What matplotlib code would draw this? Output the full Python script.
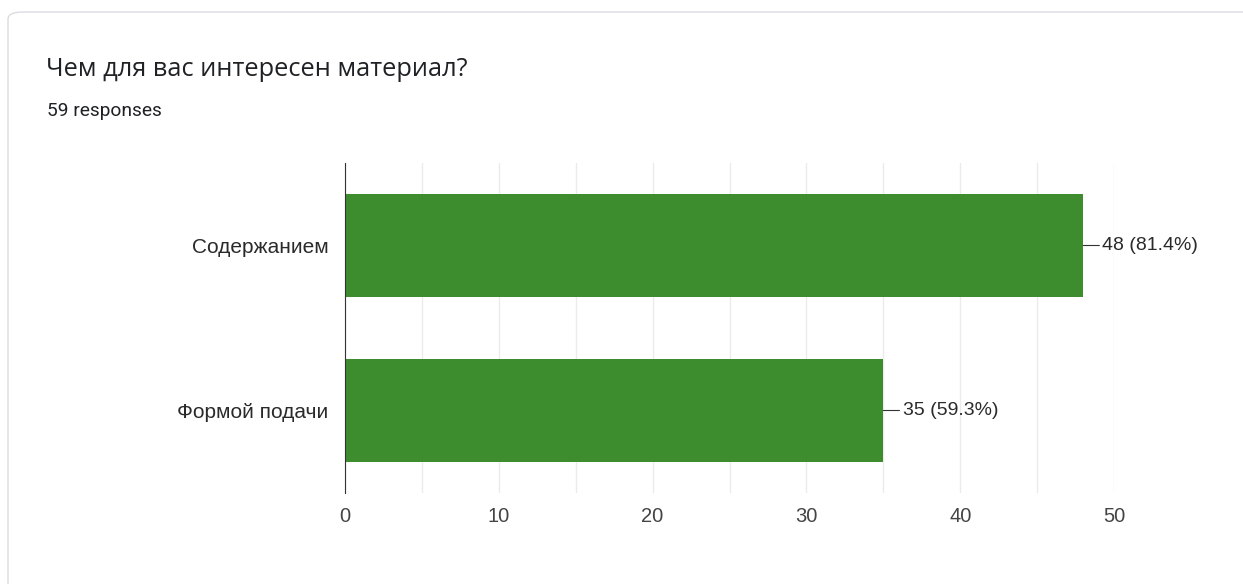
import matplotlib.pyplot as plt
from matplotlib.patches import FancyBboxPatch

# данные
title = 'Чем для вас интересен материал?'
subtitle = '59 responses'
categories = ['Содержанием', 'Формой подачи']
counts = [48, 35]
total = 59
xticks = [0, 10, 20, 30, 40, 50]

bar_color = '#3d8c2e'
text_color = '#444444'

fig = plt.figure(figsize=(12.43, 5.84), dpi=100)
fig.patch.set_facecolor('white')

# рамка карточки
card = FancyBboxPatch((8 / 1243, -0.1), 1.2, 1 - 12 / 584 + 0.1,
                      boxstyle='round,pad=0,rounding_size=0.012',
                      transform=fig.transFigure, facecolor='none',
                      edgecolor='#dadce0', linewidth=1.0, zorder=-1)
fig.patches.append(card)

fig.text(46 / 1243, 1 - 69 / 584, title, fontsize=18.3, family='Open Sans',
         color='#202124', va='center', ha='left')
fig.text(47 / 1243, 1 - 111 / 584, subtitle, fontsize=13.8, family='Roboto',
         color='#202124', va='center', ha='left')

ax = fig.add_axes([345 / 1243, 1 - 493 / 584, (1114 - 345) / 1243, 330 / 584])
y = range(len(categories))
ax.barh(y, counts, height=0.62, color=bar_color, zorder=3)

ax.set_xlim(0, 50)
ax.set_ylim(1.5, -0.5)
ax.set_xticks(xticks)
ax.set_xticks(range(5, 50, 10), minor=True)
ax.grid(axis='x', which='both', color='#ebebeb', linewidth=1, zorder=0)
ax.tick_params(axis='x', which='both', length=0, pad=10, labelsize=14.5,
               labelcolor=text_color)
ax.tick_params(axis='y', length=0, pad=12, labelsize=15, labelcolor='#2a2a2a')
ax.set_yticks(list(y))
ax.set_yticklabels(categories, family='Liberation Sans')
for lbl in ax.get_xticklabels():
    lbl.set_family('Liberation Sans')

for s in ['top', 'right', 'bottom']:
    ax.spines[s].set_visible(False)
ax.spines['left'].set_color('#333333')
ax.spines['left'].set_zorder(4)

# подписи значений с выноской
for i, c in enumerate(counts):
    ax.annotate('', xy=(c, i), xytext=(c + 1.05, i),
                arrowprops=dict(arrowstyle='-', color='#333333', lw=0.8,
                                shrinkA=0, shrinkB=0), annotation_clip=False)
    ax.text(c + 1.25, i, f'{c} ({c / total * 100:.1f}%)', va='center', ha='left',
            fontsize=14, family='Liberation Sans', color='#2a2a2a', clip_on=False)

plt.savefig('out.png', dpi=100)
